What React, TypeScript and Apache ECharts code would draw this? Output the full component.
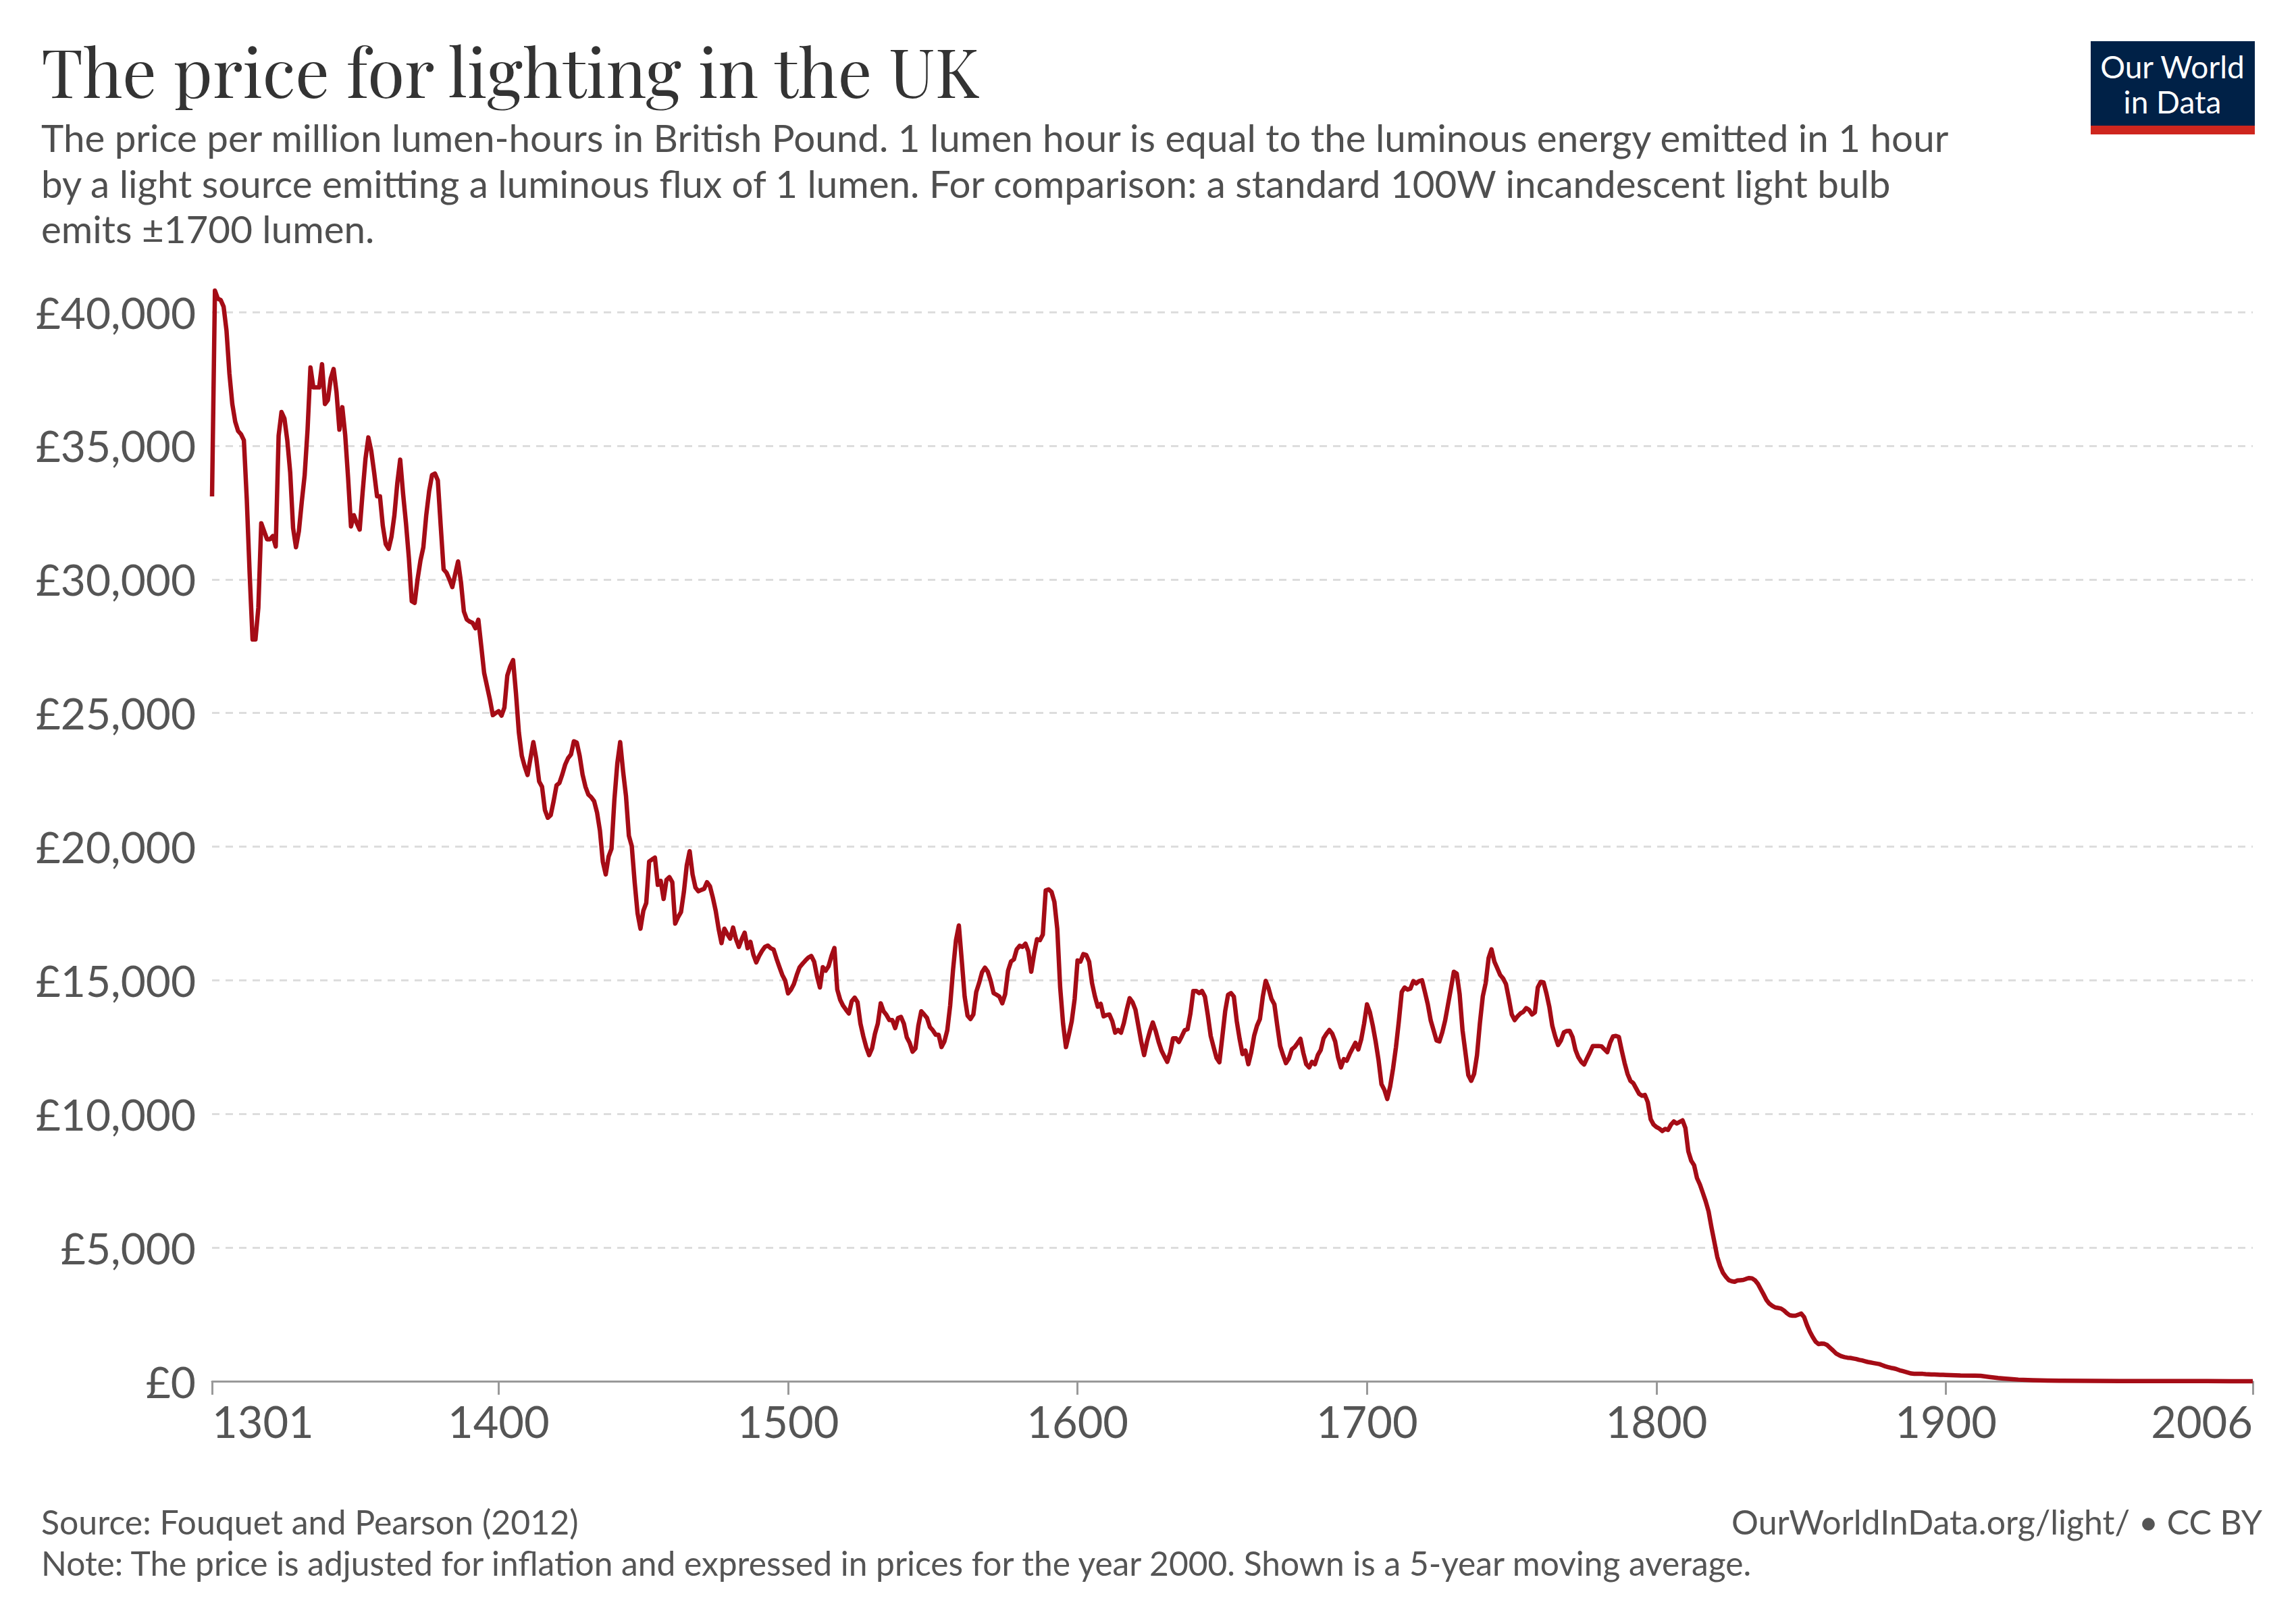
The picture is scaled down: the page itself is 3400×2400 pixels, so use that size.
import React, { useEffect, useRef } from "react";
import * as echarts from "echarts";

// ---- Data: 5-year moving average price (GBP, year-2000 prices) per million lumen-hours ----
const FIRST_YEAR = 1301;
// annual values 1301..1900
const ANNUAL_PRICES: number[] = [
  33100, 40800, 40500, 40450, 40200, 39300, 37700, 36560, 35900, 35550,
  35430, 35200, 33000, 30200, 27750, 27750, 28940, 32100, 31800, 31500,
  31500, 31620, 31230, 35370, 36260, 36020, 35200, 34000, 31920, 31200,
  31800, 32900, 33900, 35600, 37930, 37180, 37180, 37180, 38050, 36560,
  36700, 37510, 37870, 37000, 35600, 36440, 35400, 33800, 31980, 32400,
  32100, 31860, 33230, 34500, 35310, 34800, 34000, 33110, 33110, 32000,
  31320, 31140, 31600, 32400, 33600, 34480, 33200, 32100, 30800, 29180,
  29120, 30000, 30700, 31200, 32400, 33300, 33900, 33960, 33700, 32000,
  30370, 30250, 30000, 29710, 30200, 30670, 29890, 28800, 28500, 28420,
  28370, 28170, 28490, 27500, 26500, 26000, 25500, 24920, 25000, 25070,
  24900, 25200, 26400, 26740, 26980, 25730, 24270, 23400, 23000, 22680,
  23300, 23910, 23300, 22440, 22240, 21370, 21080, 21180, 21700, 22290,
  22380, 22700, 23070, 23310, 23450, 23940, 23890, 23400, 22700, 22240,
  21950, 21850, 21700, 21280, 20600, 19440, 18960, 19630, 19920, 21760,
  23110, 23910, 22820, 21900, 20410, 20020, 18670, 17510, 16930, 17600,
  17890, 19440, 19520, 19590, 18570, 18720, 18040, 18760, 18860, 18670,
  17120, 17360, 17550, 18300, 19300, 19830, 18960, 18470, 18330, 18380,
  18420, 18670, 18520, 18100, 17600, 16930, 16390, 16930, 16730, 16560,
  16970, 16540, 16250, 16540, 16780, 16200, 16440, 15960, 15670, 15910,
  16100, 16250, 16300, 16200, 16150, 15810, 15500, 15200, 14990, 14510,
  14650, 14860, 15200, 15490, 15620, 15740, 15850, 15910, 15700, 15150,
  14730, 15490, 15360, 15530, 15910, 16210, 14650, 14270, 14050, 13900,
  13760, 14220, 14350, 14180, 13380, 12900, 12500, 12200, 12450, 13000,
  13380, 14140, 13840, 13700, 13510, 13510, 13210, 13590, 13630, 13380,
  12870, 12660, 12330, 12450, 13300, 13840, 13720, 13590, 13250, 13130,
  12960, 12960, 12500, 12710, 13130, 14060, 15400, 16500, 17050, 15740,
  14390, 13680, 13550, 13720, 14560, 14900, 15300, 15470, 15320, 14980,
  14520, 14460, 14390, 14140, 14480, 15360, 15700, 15780, 16160, 16290,
  16250, 16370, 16080, 15320, 15990, 16540, 16500, 16710, 18360, 18400,
  18310, 17930, 16920, 14730, 13380, 12500, 12960, 13470, 14300, 15740,
  15700, 15980, 15950, 15700, 14900, 14400, 14010, 14120, 13650, 13700,
  13720, 13470, 13040, 13140, 13040, 13400, 13900, 14330, 14180, 13900,
  13300, 12700, 12200, 12710, 13100, 13420, 13100, 12700, 12370, 12150,
  11950, 12300, 12830, 12830, 12690, 12900, 13130, 13170, 13760, 14600,
  14600, 14520, 14600, 14390, 13700, 12920, 12500, 12100, 11930, 12870,
  13840, 14460, 14520, 14390, 13470, 12800, 12240, 12370, 11860, 12300,
  12920, 13300, 13550, 14390, 14980, 14700, 14300, 14100, 13300, 12540,
  12200, 11900, 12070, 12410, 12500, 12650, 12810, 12280, 11860, 11740,
  11950, 11860, 12200, 12390, 12830, 13000, 13140, 13000, 12710, 12120,
  11740, 12050, 11990, 12240, 12450, 12660, 12410, 12790, 13380, 14100,
  13800, 13300, 12700, 12000, 11110, 10900, 10560, 11030, 11700, 12500,
  13470, 14560, 14730, 14650, 14690, 14970, 14880, 14970, 15000, 14560,
  14100, 13500, 13130, 12750, 12710, 13050, 13500, 14100, 14700, 15320,
  15250, 14480, 13130, 12300, 11450, 11240, 11500, 12200, 13400, 14400,
  14900, 15830, 16160, 15700, 15450, 15200, 15070, 14860, 14310, 13720,
  13510, 13650, 13760, 13820, 13960, 13890, 13720, 13800, 14730, 14940,
  14920, 14500, 14000, 13300, 12900, 12580, 12750, 13050, 13100, 13110,
  12880, 12400, 12120, 11950, 11850, 12080, 12300, 12540, 12540, 12540,
  12530, 12420, 12310, 12670, 12900, 12920, 12880, 12370, 11900, 11500,
  11240, 11150, 10950, 10750, 10680, 10710, 10440, 9800, 9600, 9510,
  9450, 9360, 9440, 9400, 9600, 9720, 9640, 9700, 9760, 9470,
  8600, 8250, 8080, 7600, 7360, 7050, 6730, 6350, 5750, 5210,
  4650, 4300, 4050, 3900, 3780, 3740, 3720, 3770, 3780, 3790,
  3830, 3860, 3850, 3780, 3650, 3450, 3250, 3040, 2900, 2820,
  2760, 2740, 2720, 2650, 2550, 2470, 2450, 2450, 2490, 2530,
  2400, 2100, 1850, 1650, 1480, 1390, 1410, 1400, 1350, 1250,
  1150, 1040, 980, 930, 900, 880, 870, 850, 830, 800,
  780, 750, 720, 700, 680, 660, 640, 600, 560, 530,
  500, 480, 450, 410, 380, 350, 320, 290, 280, 280,
  280, 275, 265, 260, 250, 250, 245, 240, 240, 235,
];
// 20th century values (sparser readings)
const MODERN_YEARS: number[] = [1905, 1910, 1912, 1915, 1918, 1920, 1923, 1925, 1930, 1935, 1940, 1950, 1960, 1970, 1980, 1990, 2000, 2006];
const MODERN_PRICES: number[] = [215, 210, 200, 160, 120, 100, 75, 60, 40, 25, 20, 12, 8, 6, 4.5, 3.5, 3, 2.9];

const X_TICKS: number[] = [1301, 1400, 1500, 1600, 1700, 1800, 1900, 2006];
const Y_MAX = 40000;
const Y_STEP = 5000;

const TITLE = "The price for lighting in the UK";
const SUBTITLE_LINES: string[] = [
  "The price per million lumen-hours in British Pound. 1 lumen hour is equal to the luminous energy emitted in 1 hour",
  "by a light source emitting a luminous flux of 1 lumen. For comparison: a standard 100W incandescent light bulb",
  "emits ±1700 lumen.",
];
const SOURCE = "Source: Fouquet and Pearson (2012)";
const NOTE = "Note: The price is adjusted for inflation and expressed in prices for the year 2000. Shown is a 5-year moving average.";
const CREDIT = "OurWorldInData.org/light/ • CC BY";

const SANS = "Lato, 'Open Sans', 'DejaVu Sans', sans-serif";
const SERIF = "'Playfair Display', 'Liberation Serif', 'DejaVu Serif', serif";

export default function App() {
  const ref = useRef<HTMLDivElement>(null);

  useEffect(() => {
    document.body.style.margin = "0";
    const el = ref.current;
    if (!el) return;
    const chart = echarts.init(el, null, { renderer: "svg" });

    const data: [number, number][] = [];
    ANNUAL_PRICES.forEach((v, i) => data.push([FIRST_YEAR + i, v]));
    MODERN_YEARS.forEach((y, i) => data.push([y, MODERN_PRICES[i]]));

    const text = (x: number, y: number, t: string, size: number, fill: string, family: string, align = "left") => ({
      type: "text",
      x,
      y,
      silent: true,
      style: {
        text: t,
        fill,
        fontSize: size,
        fontFamily: family,
        align,
        verticalAlign: "middle",
        textAlign: align,
        textVerticalAlign: "middle",
      },
    });

    const option: any = {
      animation: false,
      backgroundColor: "#ffffff",
      grid: { left: 314, right: 64, top: 462, bottom: 355, containLabel: false },
      xAxis: {
        type: "value",
        min: 1301,
        max: 2006,
        axisLine: { show: true, onZero: true, lineStyle: { color: "#999999", width: 3 } },
        axisTick: { show: true, customValues: X_TICKS, length: 20, lineStyle: { color: "#999999", width: 3 } },
        axisLabel: {
          customValues: X_TICKS,
          formatter: (v: number) => String(v),
          fontSize: 65,
          fontFamily: SANS,
          color: "#555555",
          margin: 26,
          alignMinLabel: "left",
          alignMaxLabel: "right",
          showMinLabel: true,
          showMaxLabel: true,
        },
        splitLine: { show: false },
      },
      yAxis: {
        type: "value",
        min: 0,
        max: Y_MAX,
        interval: Y_STEP,
        axisLine: { show: false },
        axisTick: { show: false },
        axisLabel: {
          formatter: (v: number) => "£" + v.toLocaleString("en-US"),
          fontSize: 64,
          fontFamily: SANS,
          color: "#555555",
          margin: 24,
        },
        splitLine: { show: true, lineStyle: { color: "#dddddd", type: [11, 9], width: 3 } },
      },
      series: [
        {
          type: "line",
          data,
          showSymbol: false,
          symbol: "none",
          clip: false,
          z: 5,
          lineStyle: { color: "#a50c16", width: 6.5, join: "round" },
        },
      ],
      graphic: {
        elements: [
          text(61, 103, TITLE, 100, "#333333", SERIF),
          text(61, 203, SUBTITLE_LINES[0], 56.5, "#4f4f4f", SANS),
          text(61, 271, SUBTITLE_LINES[1], 56.5, "#4f4f4f", SANS),
          text(61, 338, SUBTITLE_LINES[2], 56.5, "#4f4f4f", SANS),
          {
            type: "rect",
            shape: { x: 3096, y: 61, width: 243, height: 138 },
            style: { fill: "#002147" },
            silent: true,
          },
          {
            type: "rect",
            shape: { x: 3096, y: 186, width: 243, height: 13 },
            style: { fill: "#ce261e" },
            silent: true,
          },
          text(3217, 98, "Our World", 46, "#ffffff", SANS, "center"),
          text(3217, 150, "in Data", 46, "#ffffff", SANS, "center"),
          text(61, 2253, SOURCE, 50, "#555555", SANS),
          text(61, 2314, NOTE, 49.7, "#555555", SANS),
          text(3350, 2253, CREDIT, 50, "#555555", SANS, "right"),
        ],
      },
    };

    chart.setOption(option);
    return () => chart.dispose();
  }, []);

  return <div ref={ref} style={{ width: 3400, height: 2400 }} />;
}
